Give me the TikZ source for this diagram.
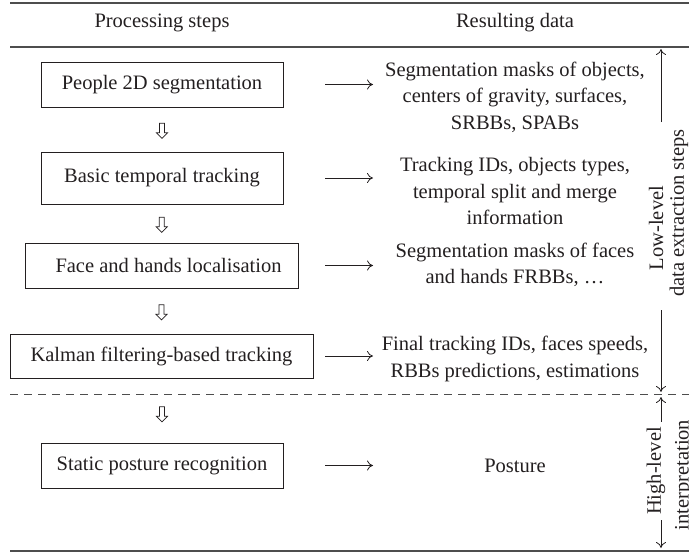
\documentclass[tikz,border=0pt]{standalone}
\usepackage{fontspec}
\setmainfont{Liberation Serif}
\usetikzlibrary{shapes.arrows,calc,arrows.meta}
\definecolor{ink}{HTML}{231F20}
\definecolor{rulec}{HTML}{4D4D4D}
\tikzset{
  stepbox/.style={draw=ink, line width=1pt, minimum height=45pt, inner sep=0pt, text=ink},
  resbox/.style={align=center, text=ink, inner sep=0pt, font=\fontsize{20.5}{26.5}\selectfont},
  hdr/.style={text=ink, inner sep=0pt},
  rulel/.style={draw=rulec, line width=1.4pt},
  dashrule/.style={draw=rulec, line width=1pt, dash pattern=on 8pt off 6pt},
  dataarrow/.style={draw=ink, line width=0.8pt, -{To[length=6pt,width=10pt]}},
  downsym/.style={single arrow, draw=ink, line width=0.7pt, shape border rotate=270,
     minimum height=15pt, minimum width=11pt, single arrow head extend=2.5pt,
     single arrow head indent=0pt, inner sep=1.8pt},
  sidelab/.style={rotate=90, text=ink, inner sep=0pt},
  sidearrow/.style={draw=ink, line width=0.8pt, -{To[length=6pt,width=10pt]}}
}
\begin{document}
\begin{tikzpicture}[x=1pt,y=-1pt, font=\fontsize{20.5}{26.5}\selectfont]
\useasboundingbox (0,0) rectangle (689,554);
% rules
\coordinate (rl1) at (10,3);   \coordinate (rr1) at (689,3);
\coordinate (rl2) at (10,47);  \coordinate (rr2) at (689,47);
\coordinate (rl3) at (10,394); \coordinate (rr3) at (689,394);
\coordinate (rl4) at (10,551); \coordinate (rr4) at (689,551);
\draw[rulel] (rl1) -- (rr1);
\draw[rulel] (rl2) -- (rr2);
\draw[dashrule] (rl3) -- (rr3);
\draw[rulel] (rl4) -- (rr4);
% headers
\node[hdr] (h1) at (162,23) {Processing steps};
\node[hdr] (h2) at (515,23) {Resulting data};
% step boxes
\node[stepbox, minimum width=242pt] (b1) at (162,84.5) {People 2D segmentation};
\node[stepbox, minimum width=242pt, minimum height=52pt] (b2) at (162,178) {Basic temporal tracking};
\node[stepbox, minimum width=273pt, minimum height=45pt] (b3) at (161.5,265.5) {\hspace*{14pt}Face and hands localisation};
\node[stepbox, minimum width=303pt, minimum height=44pt] (b4) at (161.5,356) {Kalman filtering-based tracking};
\node[stepbox, minimum width=242pt] (b5) at (162,465.5) {Static posture recognition};
% down symbols
\node[downsym] (d1) at ($(b1.south)!0.5!(b2.north)$) {};
\node[downsym] (d2) at ($(b2.south)!0.5!(b3.north)$) {};
\node[downsym] (d3) at ($(b3.south)!0.5!(b4.north)$) {};
\node[downsym] (d4) at (162,413) {};
% results
\node[resbox] (r1) at (515,97) {Segmentation masks of objects,\\centers of gravity, surfaces,\\SRBBs, SPABs};
\node[resbox] (r2) at (515,191) {Tracking IDs, objects types,\\temporal split and merge\\information};
\node[resbox] (r3) at (515,265) {Segmentation masks of faces\\and hands FRBBs, \dots};
\node[resbox] (r4) at (515,359) {Final tracking IDs, faces speeds,\\RBBs predictions, estimations};
\node[resbox] (r5) at (515,465.5) {Posture};
% data arrows
\coordinate (ax1) at (325,0);
\coordinate (ax2) at (373,0);
\foreach \b in {b1,b2,b3,b4,b5}{
  \draw[dataarrow] (\b.east -| ax1) -- (\b.east -| ax2);
}
% side labels
\node[sidelab] (ll) at (656,228) {Low-level};
\node[sidelab] (dl) at (679,213) {data extraction steps};
\coordinate (lltop) at (661,49);
\coordinate (llbot) at (661,392);
\coordinate (llup) at (661,122);
\coordinate (lldn) at (661,310);
\draw[sidearrow] (llup) -- (lltop);
\draw[sidearrow] (lldn) -- (llbot);
\node[sidelab] (hl) at (656,471) {High-level};
\node[sidelab] (il) at (684,475) {interpretation};
\coordinate (hltop) at (661,397);
\coordinate (hlbot) at (661,548);
\draw[sidearrow] ([yshift=5pt]hl.east -| hltop) -- (hltop);
\draw[sidearrow] ([yshift=-5pt]hl.west -| hlbot) -- (hlbot);
\end{tikzpicture}
\end{document}
